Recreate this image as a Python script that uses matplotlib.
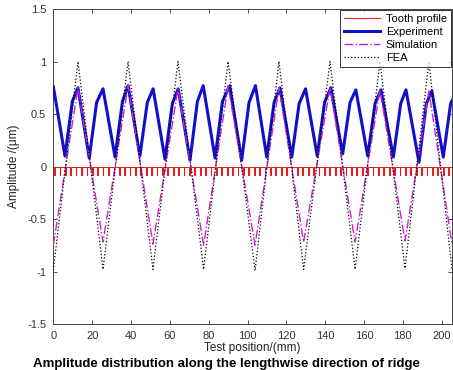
import numpy as np
import matplotlib
matplotlib.use("Agg")
import matplotlib.pyplot as plt

plt.rcParams['font.family'] = ['Liberation Sans', 'DejaVu Sans']

# Experiment (vertices)
exp_x = [0, 2.4, 6.0, 9.8, 12.7, 18.5, 22.3, 25.6, 31.8, 35.6, 38.5, 44.6, 48.4,
         51.4, 57.5, 61.3, 64.3, 70.4, 74.2, 77.2, 83.3, 87.1, 90.8, 97.0, 100.8,
         104.1, 109.9, 113.7, 116.7, 122.8, 126.6, 129.9, 135.9, 139.7, 142.9,
         149.0, 152.8, 155.8, 161.9, 165.7, 168.7, 175.1, 178.9, 181.6, 188.3,
         192.1, 194.9, 200.8, 204.6, 206]
exp_y = [0.76, 0.50, 0.10, 0.62, 0.75, 0.08, 0.61, 0.74, 0.09, 0.62, 0.77, 0.10, 0.61,
         0.74, 0.07, 0.60, 0.74, 0.06, 0.62, 0.77, 0.08, 0.62, 0.77, 0.06, 0.61,
         0.77, 0.09, 0.61, 0.75, 0.09, 0.60, 0.74, 0.10, 0.61, 0.75,
         0.12, 0.61, 0.73, 0.10, 0.60, 0.73, 0.09, 0.60, 0.73, 0.04,
         0.60, 0.72, 0.09, 0.60, 0.65]

# Simulation vertices
sim_x = [0, 12.7, 25.6, 38.5, 51.3, 64.2, 77.4, 90.0, 103.9, 116.2, 128.9,
         142.5, 155.4, 168.2, 181.1, 193.4, 205.3]
sim_y = [-0.75, 0.75, -0.72, 0.77, -0.74, 0.74, -0.75, 0.77, -0.75, 0.75, -0.72,
         0.75, -0.72, 0.73, -0.71, 0.72, -0.74]

# FEA vertices
fea_x = [0, 12.7, 25.6, 38.5, 51.3, 64.2, 77.4, 90.0, 103.9, 116.2, 128.9,
         142.5, 155.4, 168.2, 181.1, 193.4, 205.3]
fea_y = [-0.99, 1.0, -0.98, 1.0, -0.98, 1.0, -0.98, 1.0, -0.99, 1.0, -0.98,
         1.0, -0.98, 1.0, -0.97, 1.0, -0.98]

# Tooth profile: positions of the teeth and depth
tooth_pos = [0.4, 3.2, 6.0, 8.7, 11.5, 14.3, 17.1, 19.9, 22.6, 25.4, 28.2, 31.0,
             33.8, 36.5, 39.3, 42.1, 44.9, 47.7, 50.4, 53.2, 56.0, 58.8, 61.6,
             64.3, 67.1, 69.9, 72.7, 75.5, 78.2, 81.0, 83.8, 86.6, 89.4, 92.1,
             94.9, 97.7, 100.5, 103.3, 106.0, 108.8, 111.6, 114.4, 117.2, 119.9,
             122.7, 125.5, 128.3, 131.1, 133.8, 136.6, 139.4, 142.2, 145.0, 147.7,
             150.5, 153.3, 156.1, 158.9, 161.6, 164.4, 167.2, 170.0, 172.8, 175.5,
             178.3, 181.1, 183.9, 186.7, 189.4, 192.2, 195.0, 197.8, 200.6, 203.3]
tooth_depth = -0.08
tooth_width = 0.35

xticks = [0, 20, 40, 60, 80, 100, 120, 140, 160, 180, 200]
yticks = [-1.5, -1, -0.5, 0, 0.5, 1, 1.5]
ytick_labels = ['-1.5', '-1', '-0.5', '0', '0.5', '1', '1.5']

# build tooth step line
tx = [0]
ty = [0]
for p in tooth_pos:
    tx += [p, p, p + tooth_width, p + tooth_width]
    ty += [0, tooth_depth, tooth_depth, 0]
tx.append(206)
ty.append(0)

fig = plt.figure(figsize=(4.53, 3.70), dpi=100)
ax = fig.add_axes([53.3 / 453, 1 - 324 / 370, (452 - 53.3) / 453, (324 - 9) / 370])

ax.plot(tx, ty, color='#ee1111', lw=0.7, label='Tooth profile')
ax.plot(exp_x, exp_y, color='#1010cc', lw=2.2, label='Experiment', zorder=3)
ax.plot(sim_x, sim_y, color='#cc22cc', lw=1.0, ls='-.', label='Simulation', zorder=4)
ax.plot(fea_x, fea_y, color='black', lw=0.9, ls=':', label='FEA', zorder=5)

ax.set_xlim(0, 205.3)
ax.set_ylim(-1.5, 1.5)
ax.set_xticks(xticks)
ax.set_yticks(yticks)
ax.set_yticklabels(ytick_labels)
ax.tick_params(direction='in', length=3, width=0.6, top=True, right=True,
               labelsize=8, colors='#333333')
ax.tick_params(axis='x', pad=5)
ax.tick_params(axis='y', pad=5)
for s in ax.spines.values():
    s.set_linewidth(0.7)
    s.set_color('#444444')
ax.set_xlabel('Test position/(mm)', fontsize=8.5, color='#222222', labelpad=0.5)
ax.set_ylabel('Amplitude /(μm)', fontsize=8.5, color='#222222', labelpad=5)

leg = ax.legend(loc='upper right', fontsize=8, frameon=True, fancybox=False,
                borderaxespad=0.1, handlelength=3.3, handletextpad=0.5,
                labelspacing=0.28, borderpad=0.35)
leg.get_frame().set_edgecolor('black')
leg.get_frame().set_linewidth(0.7)

fig.text(0.5, 0.0, 'Amplitude distribution along the lengthwise direction of ridge',
         fontsize=9.5, fontweight='bold', va='bottom', ha='center')

fig.savefig('out.png', dpi=100)
